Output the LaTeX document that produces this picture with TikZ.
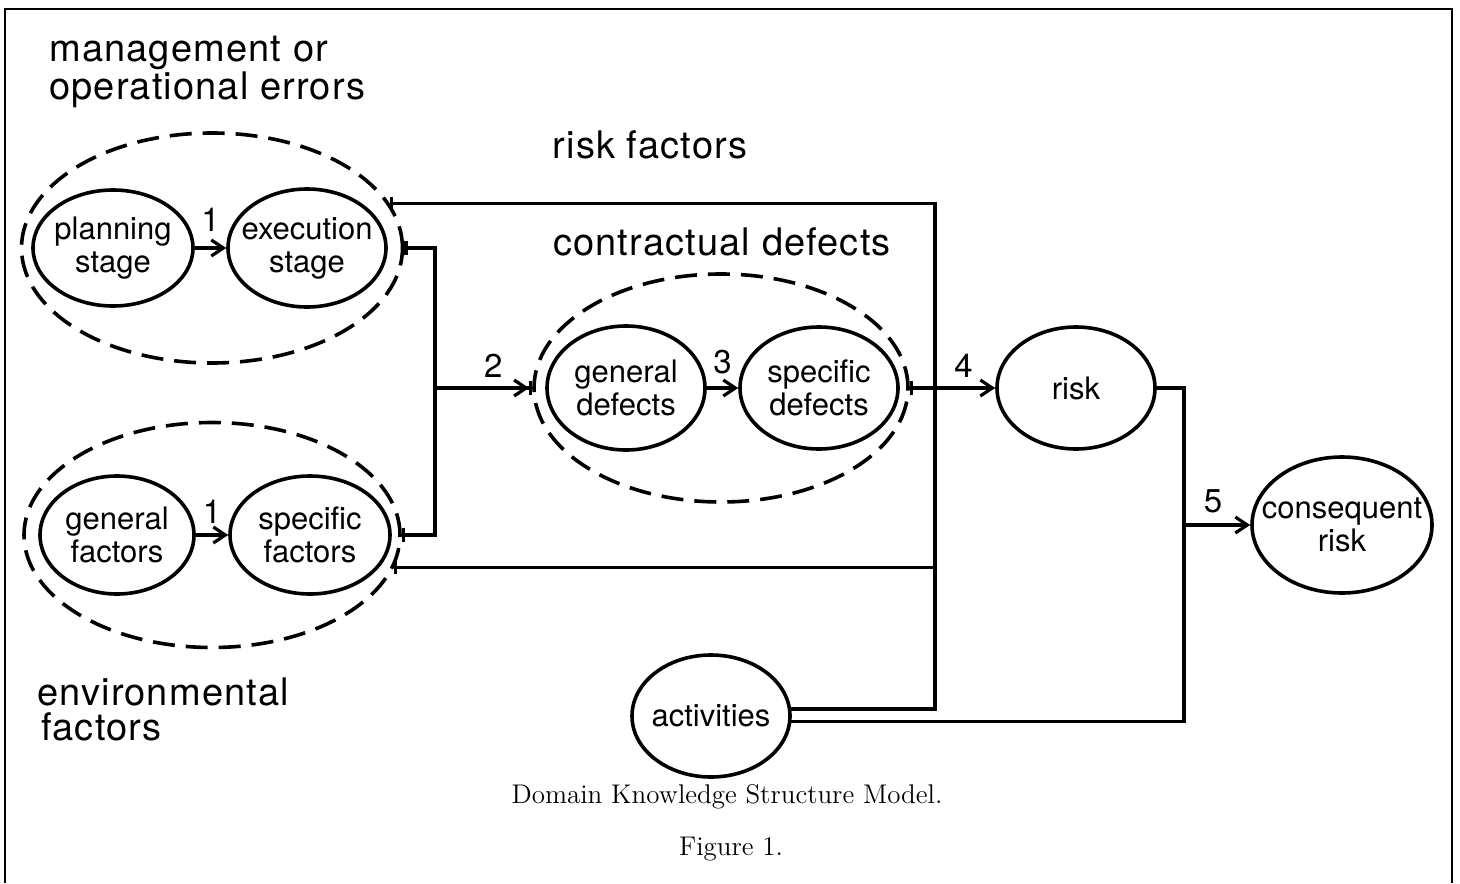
\documentclass[tikz,border=0pt]{standalone}
\usepackage{fontspec}
\newfontfamily\diagfont{TeX Gyre Heros}
\newfontfamily\titlefont[LetterSpace=3]{TeX Gyre Heros}
\usetikzlibrary{arrows.meta,shapes.geometric}

\begin{document}
\begin{tikzpicture}[x=0.5pt,y=-0.5pt,
  every node/.style={font=\diagfont},
  oval/.style={ellipse,draw,line width=1.8pt,inner sep=-25pt,align=center,
    font=\diagfont\fontsize{15.5}{16.5}\selectfont},
  group/.style={ellipse,draw,line width=1.8pt,dash pattern=on 11pt off 5.5pt,inner sep=0pt},
  link/.style={line width=1.6pt},
  head/.style={-{Straight Barb[length=6pt,width=8pt]}},
  num/.style={font=\diagfont\fontsize{16.5}{16.5}\selectfont,anchor=base,inner sep=0pt},
  title/.style={font=\titlefont\fontsize{19}{19}\selectfont,inner sep=0pt},
  caption/.style={font=\rmfamily\fontsize{13.5}{16}\selectfont,anchor=base,inner sep=0pt}
]
\useasboundingbox (0,0) rectangle (1460,883);

% page frame
\draw[line width=1pt] (5,883) -- (5,9) -- (1452,9) -- (1452,883);

% management or operational errors
\node[group,minimum width=190.5pt,minimum height=115pt] (mgmt) at (212,248) {};
\node[oval,minimum width=80pt,minimum height=58pt] (plan) at (113,248) {planning\\stage};
\node[oval,minimum width=79pt,minimum height=59pt] (exec) at (307,248) {execution\\stage};
\node[title,anchor=base west,align=left] (mgmtlbl) at (49,100) {management or\\operational errors};

% environmental factors
\node[group,minimum width=188pt,minimum height=112.5pt] (env) at (212,535) {};
\node[oval,minimum width=77pt,minimum height=59pt] (gf) at (117,535) {general\\factors};
\node[oval,minimum width=80pt,minimum height=59pt] (sf) at (310,535) {specific\\factors};
\node[title,anchor=base west,align=left,font=\titlefont\fontsize{19}{17.5}\selectfont] (envlbl) at (37,740) {environmental\\\hspace*{2pt}factors};

% contractual defects
\node[group,minimum width=187pt,minimum height=114pt] (cd) at (721,388) {};
\node[oval,minimum width=79pt,minimum height=62pt] (gd) at (626,388) {general\\defects};
\node[oval,minimum width=79pt,minimum height=61pt] (sd) at (819,388) {specific\\defects};
\node[title,anchor=base] (cdlbl) at (722,255) {contractual defects};

\node[title,anchor=base] (rflbl) at (650,158) {risk factors};

% outcome nodes
\node[oval,minimum width=79pt,minimum height=61pt] (risk) at (1076,388) {risk};
\node[oval,minimum width=90pt,minimum height=68pt] (cons) at (1342,525) {consequent\\risk};
\node[oval,minimum width=79pt,minimum height=61pt] (act) at (711,716) {activities};

% junction points
\coordinate (jA) at (435,388);
\coordinate (bus) at (935,203);
\coordinate (jR) at (1184,525);

% arrows inside the groups
\draw[link,head] (plan.east) -- node[num,midway,yshift=8.5pt] (n1a) {1} (exec.west);
\draw[link,head] (gf.east) -- node[num,midway,yshift=6pt] (n1b) {1} (sf.west);
\draw[link,head] (gd.east) -- node[num,midway,yshift=7.5pt] (n3) {3} (sd.west);

% risk factor bus
\draw[link,{Bar[width=7pt]}-] (mgmt.14.4) -| (act.5 -| bus) -- (act.5);
\draw[link,{Bar[width=7pt]}-] (env.-10.4) -- (env.-10.4 -| bus);
\draw[link,{Bar[width=7pt]}-{Bar[width=7pt]}] (mgmt.east) -| (jA) |- (env.east);
\draw[link,-{Straight Barb[length=6pt,width=8pt]Bar[width=7pt]}] (jA) -- node[num,pos=0.6,yshift=5.5pt] (n2) {2} (cd.west);
\draw[link,{Bar[width=7pt]}-{Straight Barb[length=6pt,width=8pt]}] (cd.east) -- node[num,pos=0.63,yshift=5.5pt] (n4) {4} (risk.west);

% consequent risk
\draw[link] (risk.east) -| (act.-4 -| jR) -- (act.-4);
\draw[link,head] (jR) -- node[num,pos=0.44,yshift=6.5pt] (n5) {5} (cons.west);

% caption
\node[caption] (cap) at (727,803) {Domain Knowledge Structure Model.};
\node[caption] (fig) at (731,855) {Figure 1.};
\end{tikzpicture}
\end{document}
